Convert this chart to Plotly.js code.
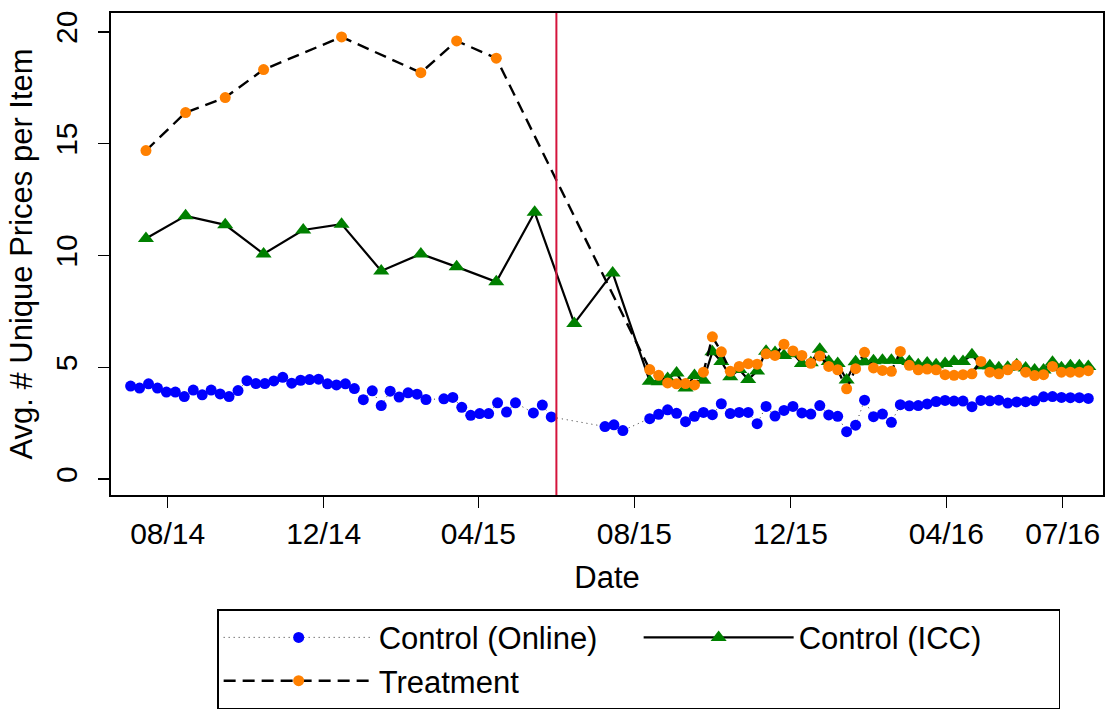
<!DOCTYPE html>
<html><head><meta charset="utf-8">
<script src="https://cdn.plot.ly/plotly-3.0.1.min.js"></script>
<style>html,body{margin:0;padding:0;background:#fff}#chart{width:1110px;height:716px}</style>
</head><body><div id="chart"></div>
<script>
// ---- Control (Online): weekly observations ----
const onlineDates = [
 '2014-07-03','2014-07-10','2014-07-17','2014-07-24','2014-07-31','2014-08-07','2014-08-14','2014-08-21','2014-08-28',
 '2014-09-04','2014-09-11','2014-09-18','2014-09-25','2014-10-02','2014-10-09','2014-10-16','2014-10-23','2014-10-30',
 '2014-11-06','2014-11-13','2014-11-20','2014-11-27','2014-12-04','2014-12-11','2014-12-18','2014-12-25',
 '2015-01-01','2015-01-08','2015-01-15','2015-01-22','2015-01-29','2015-02-05','2015-02-12','2015-02-19',
 '2015-03-05','2015-03-12','2015-03-19','2015-03-26','2015-04-02','2015-04-09','2015-04-16','2015-04-23','2015-04-30',
 '2015-05-14','2015-05-21','2015-05-28','2015-07-09','2015-07-16','2015-07-23'
];
const onlineValues = [
 4.16,4.07,4.26,4.07,3.89,3.89,3.69,3.98,3.77,3.98,3.81,3.69,3.96,4.40,4.27,4.27,4.39,4.55,4.29,4.42,4.45,4.47,
 4.26,4.21,4.26,4.05,3.55,3.95,3.29,3.93,3.67,3.86,3.80,3.56,
 3.59,3.65,3.21,2.85,2.93,2.93,3.41,3.00,3.41,
 2.96,3.31,2.78,
 2.35,2.43,2.17
];
// weekly dates shared by all three series after August 2015
const postDates = [
 '2015-08-13','2015-08-20','2015-08-27','2015-09-03','2015-09-10','2015-09-17','2015-09-24','2015-10-01','2015-10-08',
 '2015-10-15','2015-10-22','2015-10-29','2015-11-05','2015-11-12','2015-11-19','2015-11-26','2015-12-03','2015-12-10',
 '2015-12-17','2015-12-24','2015-12-31','2016-01-07','2016-01-14','2016-01-21','2016-01-28','2016-02-04','2016-02-11',
 '2016-02-18','2016-02-25','2016-03-03','2016-03-10','2016-03-17','2016-03-24','2016-03-31','2016-04-07','2016-04-14',
 '2016-04-21','2016-04-28','2016-05-05','2016-05-12','2016-05-19','2016-05-26','2016-06-02','2016-06-09','2016-06-16',
 '2016-06-23','2016-06-30','2016-07-07','2016-07-14','2016-07-21'
];
const onlinePostValues = [
 2.70,2.90,3.10,2.94,2.57,2.81,2.98,2.88,3.37,2.93,2.98,2.98,2.48,3.25,2.82,3.07,3.25,2.96,2.91,3.29,
 2.87,2.81,2.12,2.41,3.53,2.79,2.91,2.54,3.33,3.28,3.29,3.36,3.47,3.52,3.49,3.49,3.24,3.52,3.50,3.53,
 3.40,3.45,3.46,3.50,3.68,3.69,3.65,3.64,3.64,3.61
];
// ---- Control (ICC): monthly before, weekly after ----
const iccPreDates = ['2014-07-15','2014-08-15','2014-09-15','2014-10-15','2014-11-15','2014-12-15',
 '2015-01-15','2015-02-15','2015-03-15','2015-04-15','2015-05-15','2015-06-15','2015-07-15'];
const iccPreValues = [10.76,11.77,11.37,10.07,11.14,11.40,9.31,10.07,9.49,8.82,11.93,6.96,9.22];
const iccPostValues = [
 4.38,4.35,4.50,4.74,4.07,4.63,4.42,5.69,5.26,4.58,4.90,4.45,4.83,5.72,5.66,5.53,5.60,5.17,5.20,5.81,
 5.26,5.17,4.43,5.25,5.25,5.29,5.32,5.32,5.30,5.26,5.11,5.19,5.11,5.17,5.26,5.26,5.56,5.07,5.07,4.98,
 5.00,5.11,4.97,4.88,4.88,5.22,4.98,5.07,5.07,5.04
];
// ---- Treatment ----
const treatPreDates = ['2014-07-15','2014-08-15','2014-09-15','2014-10-15','2014-12-15','2015-02-15','2015-03-15','2015-04-15'];
const treatPreValues = [14.69,16.39,17.06,18.31,19.77,18.17,19.59,18.82];
const treatPostValues = [
 4.90,4.64,4.30,4.26,4.27,4.21,4.78,6.36,5.69,4.82,5.04,5.16,5.14,5.60,5.53,6.03,5.73,5.53,5.18,5.51,
 5.04,4.89,4.04,4.94,5.67,4.97,4.86,4.82,5.71,5.09,4.89,4.92,4.89,4.67,4.64,4.67,4.71,5.26,4.78,4.71,
 4.89,5.09,4.78,4.63,4.67,5.04,4.78,4.78,4.78,4.85
];
const seriesNames = ['Control (Online)','Control (ICC)','Treatment'];
const xTickVals = ['2014-08-01','2014-12-01','2015-04-01','2015-08-01','2015-12-01','2016-04-01','2016-07-01'];
const xTickText = ['08/14','12/14','04/15','08/15','12/15','04/16','07/16'];
const yTickVals = [0,5,10,15,20];
const policyDate = '2015-06-01';

const FONT = 'Liberation Sans, Arial, Helvetica, sans-serif';

const traces = [
 {x: onlineDates.concat(postDates), y: onlineValues.concat(onlinePostValues), name: seriesNames[0],
  type:'scatter', mode:'lines+markers',
  line:{color:'#333', width:1, dash:'1px,4px'}, marker:{color:'#0000FF', size:11, symbol:'circle'}},
 {x: iccPreDates.concat(postDates), y: iccPreValues.concat(iccPostValues), name: seriesNames[1],
  type:'scatter', mode:'lines+markers',
  line:{color:'#000', width:2.2}, marker:{color:'#008000', size:14, symbol:'triangle-up'}},
 {x: treatPreDates.concat(postDates), y: treatPreValues.concat(treatPostValues), name: seriesNames[2],
  type:'scatter', mode:'lines+markers',
  line:{color:'#000', width:2.4, dash:'12px,7px'}, marker:{color:'#FF8000', size:11, symbol:'circle'}}
];

const layout = {
 width:1110, height:716,
 margin:{l:111, r:7, t:13, b:218},
 paper_bgcolor:'#fff', plot_bgcolor:'#fff',
 font:{family:FONT, size:30, color:'#000'},
 showlegend:true,
 xaxis:{type:'date', range:['2014-06-17 16:00','2016-08-01 12:00'],
  tickmode:'array', tickvals:xTickVals, ticktext:xTickText,
  ticks:'outside', ticklen:11, tickwidth:1.5, tickcolor:'#000',
  showline:true, linecolor:'#000', linewidth:1.6, mirror:true,
  showgrid:false, zeroline:false, tickfont:{size:30, family:FONT},
  title:{text:'Date', font:{size:31, family:FONT}, standoff:18}},
 yaxis:{range:[-0.71,20.84], tickmode:'array', tickvals:yTickVals,
  ticks:'outside', ticklen:11, tickwidth:1.5, tickcolor:'#000', tickangle:-90,
  ticklabelstandoff:9,
  showline:true, linecolor:'#000', linewidth:1.6, mirror:true,
  showgrid:false, zeroline:false, tickfont:{size:30, family:FONT},
  title:{text:'Avg. # Unique Prices per Item', font:{size:31, family:FONT}, standoff:8}},
 shapes:[{type:'line', xref:'x', yref:'paper', x0:policyDate, x1:policyDate, y0:0, y1:1,
  line:{color:'#D4143C', width:2}, layer:'above'}],
 legend:{orientation:'h', x:0.107, xanchor:'left', y:-0.237, yanchor:'top',
  bordercolor:'#000', borderwidth:1.5, bgcolor:'#fff',
  font:{size:31, family:FONT}, itemwidth:150, entrywidth:255, entrywidthmode:'pixels',
  traceorder:'normal'}
};

Plotly.newPlot('chart', traces, layout, {staticPlot:true, displayModeBar:false});
</script></body></html>
